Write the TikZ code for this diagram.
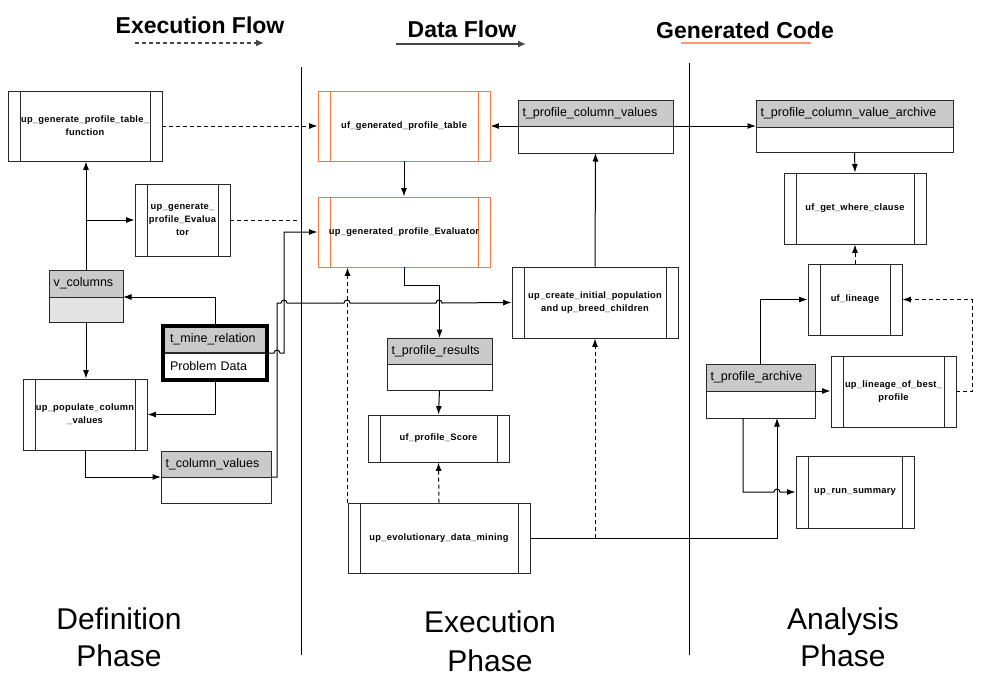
\documentclass[tikz,border=0pt]{standalone}
\usepackage{fontspec}
\setmainfont{Liberation Sans}
\newfontfamily\procfont[LetterSpace=3]{Liberation Sans}
\usetikzlibrary{positioning,calc,arrows.meta}
\definecolor{headgray}{RGB}{202,202,202}
\definecolor{bodygray}{RGB}{228,228,228}
\definecolor{gencode}{RGB}{240,120,64}
\definecolor{genline}{RGB}{244,158,120}
\definecolor{boxline}{RGB}{40,40,40}
\definecolor{legline}{RGB}{70,70,70}

\begin{document}
\begin{tikzpicture}[x=1pt, y=-1pt, >={Latex[length=8.5pt,width=6pt]}, line width=1pt,
  proc/.style={draw=#1, line width=0.9pt, fill=white, align=center, inner sep=0pt,
    font=\procfont\bfseries\fontsize{9.3}{13}\selectfont,
    path picture={\draw[#1, line width=0.9pt]
      ([xshift=12pt]path picture bounding box.north west) -- ([xshift=12pt]path picture bounding box.south west)
      ([xshift=-12pt]path picture bounding box.north east) -- ([xshift=-12pt]path picture bounding box.south east);}},
  proc/.default=boxline,
  tabhead/.style={draw=boxline, line width=0.9pt, fill=headgray, outer sep=0pt, inner xsep=4.5pt,
    inner ysep=0pt, minimum height=27pt, text width=#1, align=left, font=\fontsize{12.5}{14}\selectfont},
  tabbody/.style={draw=boxline, line width=0.9pt, fill=white, outer sep=0pt, inner sep=0pt,
    minimum width=#1, minimum height=26pt},
  flow/.style={dash pattern=on 4pt off 3pt},
  phase/.style={align=center, font=\fontsize{30}{37}\selectfont}]
\useasboundingbox (0,0) rectangle (1000,683);

% legend
\node[anchor=base, font=\bfseries\fontsize{23}{26}\selectfont] (lgexec) at (200,33) {Execution Flow};
\node[anchor=base, font=\bfseries\fontsize{23}{26}\selectfont] (lgdata) at (462,37) {Data Flow};
\node[anchor=base, font=\bfseries\fontsize{23}{26}\selectfont] (lggen) at (745,38) {Generated Code};
\draw[legline, line width=1.5pt, flow, -{Latex[length=8pt,width=7pt]}] (135,43) -- (264,43);
\draw[legline, line width=1.8pt, -{Latex[length=8pt,width=7pt]}] (396,44) -- (526,44);
\draw[genline, line width=2pt] (681,43) -- (811,43);

% phase dividers
\draw[line width=0.8pt] (301,67) -- (301,655);
\draw[line width=0.8pt] (689,63) -- (689,655);

% definition phase
\node[proc, minimum width=154pt, minimum height=70pt] (gentab) at (85,126) {up\_generate\_profile\_table\_\\function};
\node[proc, minimum width=95pt, minimum height=72pt] (geneval) at (182.5,220) {up\_generate\_\\profile\_Evalua\\tor};
\node[tabhead=65pt] (vcol) at (86,283.5) {v\_columns};
\node[tabbody=74pt, fill=bodygray, minimum height=25pt, below=0pt of vcol] (vcol-b) {};
\node[tabhead=90pt, inner xsep=7pt, line width=2pt] (tmine) at (215,339.5) {t\_mine\_relation};
\node[tabhead=90pt, inner xsep=7pt, line width=2pt, fill=white, below=0pt of tmine] (tmine-b) {Problem Data};
\draw[line width=3.5pt] (tmine.north west) rectangle (tmine-b.south east);
\node[proc, minimum width=124pt, minimum height=71pt] (popul) at (85,414.5) {up\_populate\_column\\\_values};
\node[tabhead=101pt, minimum height=26pt] (tcolv) at (216,464) {t\_column\_values};
\node[tabbody=110pt, below=0pt of tcolv] (tcolv-b) {};

% execution phase
\node[proc=gencode, minimum width=172pt, minimum height=70pt] (ufgen) at (404,126) {uf\_generated\_profile\_table};
\node[proc=gencode, minimum width=172pt, minimum height=70pt] (upeval) at (404,232) {up\_generated\_profile\_Evaluator};
\node[tabhead=146pt, minimum height=26pt] (tpcv) at (595.5,113) {t\_profile\_column\_values};
\node[tabbody=155pt, minimum height=27pt, below=0pt of tpcv] (tpcv-b) {};
\node[proc, minimum width=166pt, minimum height=71pt] (create) at (595,302.5) {up\_create\_initial\_population\\and up\_breed\_children};
\node[tabhead=96pt, minimum height=26pt] (tpres) at (439.5,351) {t\_profile\_results};
\node[tabbody=105pt, below=0pt of tpres] (tpres-b) {};
\node[proc, minimum width=141pt, minimum height=47pt] (score) at (438.5,438.5) {uf\_profile\_Score};
\node[proc, minimum width=182pt, minimum height=70pt] (mining) at (439,538) {up\_evolutionary\_data\_mining};

% analysis phase
\node[tabhead=188pt] (tpcva) at (854.5,113.5) {t\_profile\_column\_value\_archive};
\node[tabbody=197pt, minimum height=25pt, below=0pt of tpcva] (tpcva-b) {};
\node[proc, minimum width=142pt, minimum height=71pt] (where) at (855,208.5) {uf\_get\_where\_clause};
\node[proc, minimum width=94pt, minimum height=71pt] (lineage) at (855,299.5) {uf\_lineage};
\node[tabhead=100pt] (tparch) at (760.5,377.5) {t\_profile\_archive};
\node[tabbody=109pt, minimum height=27pt, below=0pt of tparch] (tparch-b) {};
\node[proc, minimum width=125pt, minimum height=71pt] (best) at (893.5,391.5) {up\_lineage\_of\_best\_\\profile};
\node[proc, minimum width=118pt, minimum height=72pt] (runsum) at (855,492) {up\_run\_summary};

\coordinate (evalend) at (299,220);
\coordinate (jA) at (create.south |- mining.east);
\coordinate (jB) at (777,538);

% data flow
\draw[->] (vcol.north) -- (vcol.north |- gentab.south);
\draw[->] (vcol.north |- geneval.west) -- (geneval.west);
\draw[->] (tmine.north) |- (vcol.south east);
\draw[->] (vcol-b.south) -- (vcol-b.south |- popul.north);
\draw[->] (tmine-b.south) |- (popul.east);
\draw[->] (popul.south) |- (tcolv.south west);
\draw[->] (tmine.south east) -- (274,353) arc[start angle=180, end angle=360, radius=3] -- (284,353) |- (upeval.west);
\draw[->] (tcolv.south east) -- (277,477) -- (277,303) -- (281,303) arc[start angle=180, end angle=360, radius=3]
  -- (344,303) arc[start angle=180, end angle=360, radius=3]
  -- (436,303) arc[start angle=180, end angle=360, radius=3] -- (create.west);
\draw[->] (ufgen.south) -- (upeval.north);
\draw[->] (tpcv.south west) -- (ufgen.east);
\draw[->] (tpcv.south east) -- (tpcv.south east -| tpcva.west);
\draw[->] (create.north) -- (tpcv-b.south);
\draw[->] (upeval.south) -- ++(0,18) -| (tpres.north);
\draw[->] (tpres-b.south) -- (score.north);
\draw[->] (mining.east) -- (jB) -- (jB |- tparch-b.south);
\draw[->] (tpcva-b.south) -- (where.north);
\draw[->] (tparch.north) |- (lineage.west);
\draw[->] (tparch.south east) -- (tparch.south east -| best.west);
\draw[->] ([xshift=-17.5pt]tparch-b.south) |- (774,492) arc[start angle=180, end angle=360, radius=3] -- (runsum.west);

% execution flow
\draw[flow, ->] (gentab.east) -- (ufgen.west);
\draw[flow] (geneval.east) -- (evalend);
\draw[flow, ->] (mining.north) -- (score.south);
\draw[flow, ->] (mining.north west) -- (mining.north west |- upeval.south);
\draw[flow, ->] (jA) -- (create.south);
\draw[flow, ->] (lineage.north) -- (where.south);
\draw[flow, ->] (best.east) -- ++(16,0) |- (lineage.east);

% phases
\node[phase] (defph) at (119,637.5) {Definition\\Phase};
\node[phase, font=\fontsize{30}{39}\selectfont] (exeph) at (490,641.5) {Execution\\Phase};
\node[phase] (anaph) at (843,637.5) {Analysis\\Phase};
\end{tikzpicture}
\end{document}
